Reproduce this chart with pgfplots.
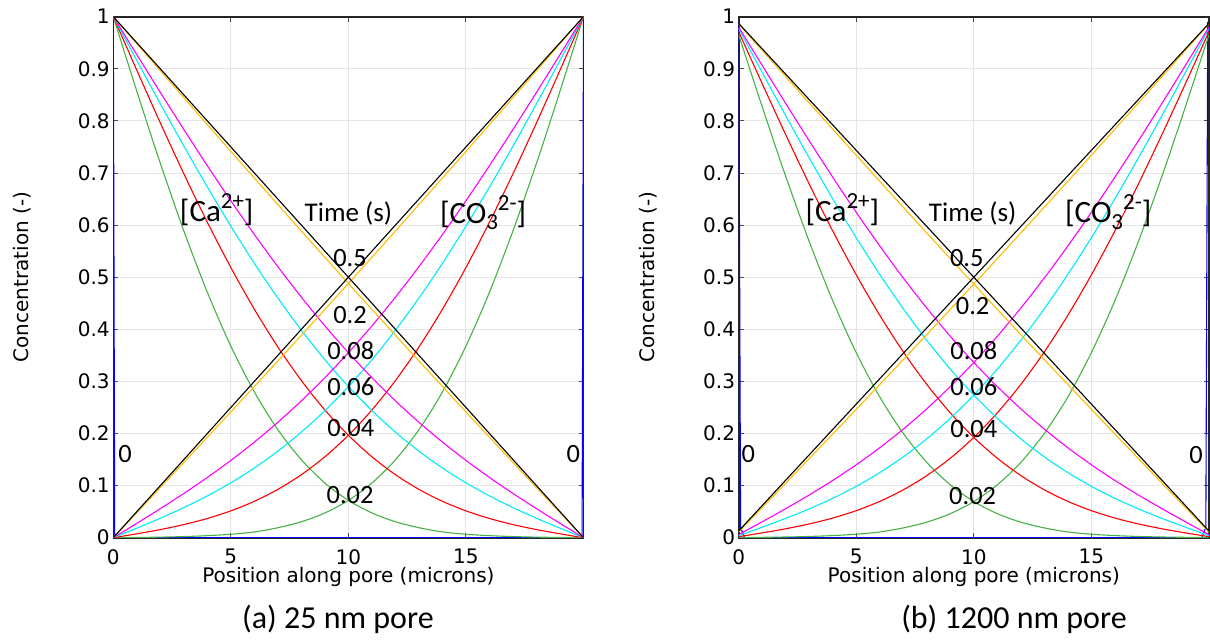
\documentclass[border=0pt]{standalone}
\usepackage{pgfplots}
\pgfplotsset{compat=1.18}
\usepackage{pgfplotstable}
\usepackage{fontspec}
\setmainfont{DejaVu Sans}
\newfontfamily\carl{Carlito}

\definecolor{cgreen}{RGB}{70,178,70}
\definecolor{corange}{RGB}{255,188,0}
\definecolor{ccyan}{RGB}{0,235,250}
\definecolor{cmagenta}{RGB}{255,0,255}
\definecolor{cred}{RGB}{255,0,0}
\definecolor{cblue}{RGB}{0,0,255}

% Left panel (25 nm): [Ca2+] profiles; xm = mirrored position for [CO3 2-]
\pgfplotstableread{
x xm c004 c006 c008 c02
0 20 1 1 1 1
1 19 0.89727 0.91602 0.92707 0.94812
2 18 0.79622 0.83295 0.85472 0.89629
3 17 0.69849 0.7517 0.78352 0.84455
4 16 0.60552 0.6731 0.71401 0.79295
5 15 0.51854 0.59788 0.64667 0.74151
6 14 0.4385 0.5267 0.58195 0.69029
7 13 0.36606 0.46003 0.52018 0.63931
8 12 0.30159 0.39827 0.46167 0.58859
9 11 0.24515 0.34163 0.4066 0.53815
10 10 0.19654 0.29021 0.35508 0.488
11 9 0.15535 0.24394 0.30712 0.43815
12 8 0.12099 0.20268 0.26267 0.38859
13 7 0.09276 0.16611 0.22156 0.33931
14 6 0.06988 0.13384 0.18357 0.29029
15 5 0.05154 0.1054 0.14837 0.24151
16 4 0.0369 0.08024 0.11563 0.19295
17 3 0.02519 0.05778 0.0849 0.14455
18 2 0.01562 0.03738 0.05572 0.09629
19 1 0.00747 0.01834 0.02759 0.04812
20 0 0 0 0 0
}\leftmain
\pgfplotstableread{
x xm c002
0 20 1
0.5 19.5 0.92822
1 19 0.85703
1.5 18.5 0.78698
2 18 0.71861
3 17 0.58888
4 16 0.47115
5 15 0.36772
6 14 0.27974
7 13 0.20729
8 12 0.14952
9 11 0.10494
10 10 0.07163
11 9 0.04751
12 8 0.03063
13 7 0.01918
14 6 0.0111
15 5 0.00661
16 4 0.00392
17 3 0.00216
18 2 0.00111
19 1 0.00046
20 0 0
}\leftgreen
% Right panel (1200 nm)
\pgfplotstableread{
x xm c004 c006 c008 c02
0 20 0.971 0.977 0.98 0.986
1 19 0.87145 0.89299 0.90641 0.93542
2 18 0.77354 0.80997 0.83346 0.88488
3 17 0.67884 0.72887 0.76178 0.83444
4 16 0.58875 0.65056 0.69195 0.78413
5 15 0.50447 0.57582 0.62449 0.73397
6 14 0.42691 0.50531 0.5599 0.68403
7 13 0.35671 0.43956 0.49853 0.63433
8 12 0.29424 0.37893 0.44072 0.58488
9 11 0.23955 0.32363 0.38663 0.5357
10 10 0.19245 0.27376 0.33639 0.4868
11 9 0.15253 0.22921 0.29001 0.4382
12 8 0.11924 0.18979 0.2474 0.38988
13 7 0.09188 0.15517 0.20838 0.34183
14 6 0.06971 0.12494 0.1727 0.29403
15 5 0.05194 0.09862 0.14002 0.24647
16 4 0.03776 0.07559 0.10995 0.19913
17 3 0.02641 0.05528 0.08202 0.15194
18 2 0.01714 0.03704 0.05574 0.10488
19 1 0.00924 0.02017 0.03059 0.05792
20 0 0.002 0.004 0.006 0.011
}\rightmain
\pgfplotstableread{
x xm c002
0 20 0.965
0.5 19.5 0.89575
1 19 0.82708
1.5 18.5 0.7595
2 18 0.69354
3 17 0.56839
4 16 0.45482
5 15 0.35504
6 14 0.27016
7 13 0.20027
8 12 0.14454
9 11 0.10154
10 10 0.0694
11 9 0.04613
12 8 0.02985
13 7 0.0188
14 6 0.01101
15 5 0.00668
16 4 0.00408
17 3 0.00238
18 2 0.00137
19 1 0.00074
20 0 0.0003
}\rightgreen

\pgfplotsset{
  panel/.style={
    scale only axis, width=235.1pt, height=260.5pt,
    xmin=0, xmax=20, ymin=0, ymax=1,
    xtick={0,5,10,15},
    ytick={0,0.1,0.2,0.3,0.4,0.5,0.6,0.7,0.8,0.9,1},
    tick align=inside, major tick length=2.5pt,
    tick style={black!70, line width=0.5pt},
    xmajorgrids, ymajorgrids,
    major grid style={black!10, line width=0.5pt},
    axis line style={black!85, line width=0.8pt},
    tick label style={font=\fontsize{10}{12}\selectfont},
    label style={font=\fontsize{10}{12}\selectfont},
    /pgf/number format/assume math mode=true,
    yticklabel style={xshift=1.7pt},
    xticklabel style={inner sep=0pt, yshift=-5.6pt},
    xlabel={Position along pore (microns)},
    xlabel style={at={(axis description cs:0.5,-0.086)}, anchor=base, inner sep=0pt},
    ylabel={Concentration (-)},
    ylabel style={at={(axis description cs:-0.193,0.5)}, anchor=center},
    every axis plot/.append style={line width=0.55pt, no marks, smooth, tension=0.5},
  },
}
\tikzset{
  ann/.style={font=\carl\fontsize{15.5}{16}\selectfont, inner sep=0pt},
  tim/.style={font=\carl\fontsize{13.5}{14}\selectfont, inner sep=0pt},
  tl/.style={font=\carl\fontsize{13.2}{14}\selectfont, inner sep=0pt},
}
\newcommand{\sups}[1]{\raisebox{0.42em}{\fontsize{11.5}{12}\selectfont #1}}
\newcommand{\subs}[1]{\raisebox{-0.22em}{\fontsize{11.5}{12}\selectfont #1}}

\begin{document}
\begin{tikzpicture}
\useasboundingbox (0,0) rectangle (605pt,319.5pt);

% ---------------- (a) 25 nm pore ----------------
\begin{axis}[panel, at={(56.65pt,50.65pt)}, anchor=south west]
  \addplot[cblue, sharp plot] coordinates {(0,1) (0.06,0) (20,0)};
  \addplot[cblue, sharp plot] coordinates {(0,0) (19.94,0) (20,1)};
  \addplot[cgreen] table[x=x, y=c002] {\leftgreen};
  \addplot[cgreen] table[x=xm, y=c002] {\leftgreen};
  \addplot[cred] table[x=x, y=c004] {\leftmain};
  \addplot[cred] table[x=xm, y=c004] {\leftmain};
  \addplot[ccyan] table[x=x, y=c006] {\leftmain};
  \addplot[ccyan] table[x=xm, y=c006] {\leftmain};
  \addplot[cmagenta] table[x=x, y=c008] {\leftmain};
  \addplot[cmagenta] table[x=xm, y=c008] {\leftmain};
  \addplot[corange] table[x=x, y=c02] {\leftmain};
  \addplot[corange] table[x=xm, y=c02] {\leftmain};
  \addplot[black, sharp plot] coordinates {(0,1) (20,0)};
  \addplot[black, sharp plot] coordinates {(0,0) (20,1)};
  \node[ann] at (axis cs:4.40,0.629) {[Ca\sups{2+}]};
  \node[tim] at (axis cs:10.0,0.623) {Time (s)};
  \node[ann] at (axis cs:15.73,0.624) {[CO\subs{3}\sups{2-}]};
  \node[tl] at (axis cs:10.07,0.537) {0.5};
  \node[tl] at (axis cs:10.07,0.427) {0.2};
  \node[tl] at (axis cs:10.1,0.360) {0.08};
  \node[tl] at (axis cs:10.1,0.290) {0.06};
  \node[tl] at (axis cs:10.1,0.210) {0.04};
  \node[tl] at (axis cs:10.07,0.082) {0.02};
  \node[tl] at (axis cs:0.50,0.161) {0};
  \node[tl] at (axis cs:19.57,0.161) {0};
\end{axis}

% ---------------- (b) 1200 nm pore ----------------
\begin{axis}[panel, at={(369.35pt,50.65pt)}, anchor=south west]
  \addplot[cblue, sharp plot] coordinates {(0,0.99) (0.08,0.02) (0.25,0) (20,0)};
  \addplot[cblue, sharp plot] coordinates {(0,0) (19.7,0) (19.87,0.02) (19.95,0.99)};
  \addplot[cgreen] table[x=x, y=c002] {\rightgreen};
  \addplot[cgreen] table[x=xm, y=c002] {\rightgreen};
  \addplot[cred] table[x=x, y=c004] {\rightmain};
  \addplot[cred] table[x=xm, y=c004] {\rightmain};
  \addplot[ccyan] table[x=x, y=c006] {\rightmain};
  \addplot[ccyan] table[x=xm, y=c006] {\rightmain};
  \addplot[cmagenta] table[x=x, y=c008] {\rightmain};
  \addplot[cmagenta] table[x=xm, y=c008] {\rightmain};
  \addplot[corange] table[x=x, y=c02] {\rightmain};
  \addplot[corange] table[x=xm, y=c02] {\rightmain};
  \addplot[black, sharp plot] coordinates {(0,0.987) (20,0.013)};
  \addplot[black, sharp plot] coordinates {(0,0.013) (20,0.987)};
  \node[ann] at (axis cs:4.41,0.630) {[Ca\sups{2+}]};
  \node[tim] at (axis cs:9.95,0.623) {Time (s)};
  \node[ann] at (axis cs:15.72,0.625) {[CO\subs{3}\sups{2-}]};
  \node[tl] at (axis cs:9.70,0.536) {0.5};
  \node[tl] at (axis cs:9.95,0.445) {0.2};
  \node[tl] at (axis cs:10.0,0.359) {0.08};
  \node[tl] at (axis cs:10.0,0.289) {0.06};
  \node[tl] at (axis cs:10.0,0.208) {0.04};
  \node[tl] at (axis cs:9.95,0.080) {0.02};
  \node[tl] at (axis cs:0.41,0.161) {0};
  \node[tl] at (axis cs:19.45,0.159) {0};
\end{axis}

\node[anchor=base, font=\carl\fontsize{16}{16}\selectfont] at (169pt,5.5pt) {(a) 25 nm pore};
\node[anchor=base, font=\carl\fontsize{16}{16}\selectfont] at (507pt,5.5pt) {(b) 1200 nm pore};
\end{tikzpicture}
\end{document}
